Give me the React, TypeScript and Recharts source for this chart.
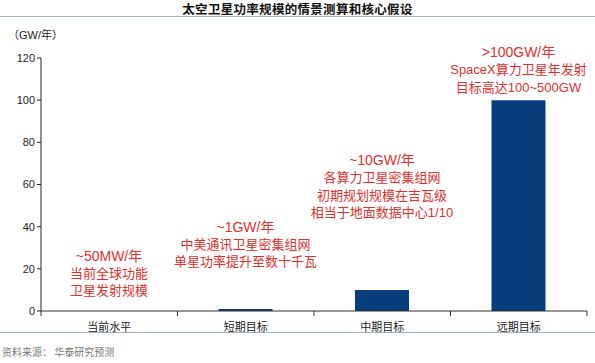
import React from "react"
import { BarChart, Bar, XAxis, YAxis, LabelList } from "recharts"

const categories = ["当前水平", "短期目标", "中期目标", "远期目标"]
const power = [0.05, 1, 10, 100]
const yTicks = [0, 20, 40, 60, 80, 100, 120]
const notes = [
  ["~50MW/年", "当前全球功能", "卫星发射规模"],
  ["~1GW/年", "中美通讯卫星密集组网", "单星功率提升至数十千瓦"],
  ["~10GW/年", "各算力卫星密集组网", "初期规划规模在吉瓦级", "相当于地面数据中心1/10"],
  [">100GW/年", "SpaceX算力卫星年发射", "目标高达100~500GW"],
]

// gap (px) between bar top and the centre of the note's last line
const noteGap = [20, 47, 77, 13]
const lineH = 17.5

const data = categories.map((name, i) => ({ name, value: power[i], idx: i }))

const W = 595
const H = 363
const plotLeft = 41
const plotRight = 587
const band = (plotRight - plotLeft) / categories.length

const cjk = "'Liberation Sans', Arial, 'Noto Sans CJK SC', sans-serif"

function NoteLabel(props: any) {
  const { x, y, width, index } = props
  const lines = notes[index]
  const cx = x + width / 2
  const lastY = y - noteGap[index]
  return (
    <g>
      {lines.map((t, k) => (
        <text
          key={k}
          x={cx}
          y={lastY - (lines.length - 1 - k) * lineH}
          textAnchor="middle"
          dominantBaseline="central"
          fill="#e0312b"
          fontSize={k === 0 ? 14 : 13}
          fontFamily={cjk}
        >
          {t}
        </text>
      ))}
    </g>
  )
}

function CatTick(props: any) {
  const { x, y, payload, index } = props
  return (
    <g>
      <line x1={x + band / 2} y1={y - 8} x2={x + band / 2} y2={y - 3} stroke="#333" />
      {index === 0 && <line x1={x - band / 2} y1={y - 8} x2={x - band / 2} y2={y - 3} stroke="#333" />}
      <text x={x} y={y + 8} textAnchor="middle" dominantBaseline="central" fill="#222" fontSize={11} fontFamily={cjk}>
        {payload.value}
      </text>
    </g>
  )
}

export default function App() {
  return (
    <div style={{ position: "absolute", top: 0, left: 0, width: W, height: H, background: "#fff" }}>
      <div
        style={{
          position: "absolute",
          top: 1,
          left: 0,
          width: W,
          textAlign: "center",
          fontFamily: "'Noto Sans CJK SC', sans-serif",
          fontWeight: 700,
          fontSize: 12.5,
          lineHeight: "15px",
          letterSpacing: 0.3,
          color: "#111",
        }}
      >
        太空卫星功率规模的情景测算和核心假设
      </div>
      <div style={{ position: "absolute", top: 16, left: 0, width: W, height: 1, background: "#9fb2c6" }} />
      <div
        style={{
          position: "absolute",
          top: 26,
          left: 8,
          fontFamily: cjk,
          fontSize: 11,
          color: "#222",
        }}
      >
        （GW/年）
      </div>
      <BarChart width={W} height={H} data={data} margin={{ top: 58, right: W - plotRight, bottom: 0, left: 0 }}>
        <XAxis
          dataKey="name"
          tickLine={false}
          axisLine={{ stroke: "#333" }}
          tick={<CatTick />}
          interval={0}
          height={52}
        />
        <YAxis
          width={plotLeft}
          domain={[0, 120]}
          ticks={yTicks}
          tickSize={4}
          tickLine={{ stroke: "#222" }}
          axisLine={{ stroke: "#222" }}
          tick={{ fill: "#222", fontSize: 11, fontFamily: "'Liberation Sans', Arial" }}
        />
        <Bar dataKey="value" fill="#083d7e" barSize={54} isAnimationActive={false}>
          <LabelList dataKey="value" content={<NoteLabel />} />
        </Bar>
      </BarChart>
      <div style={{ position: "absolute", top: 332, left: 0, width: W, height: 1, background: "#9fb2c6" }} />
      <div
        style={{
          position: "absolute",
          top: 344,
          left: 2,
          fontFamily: "'Noto Sans CJK SC', sans-serif",
          fontSize: 10,
          lineHeight: "16px",
          color: "#777",
        }}
      >
        资料来源：&nbsp;华泰研究预测
      </div>
    </div>
  )
}
